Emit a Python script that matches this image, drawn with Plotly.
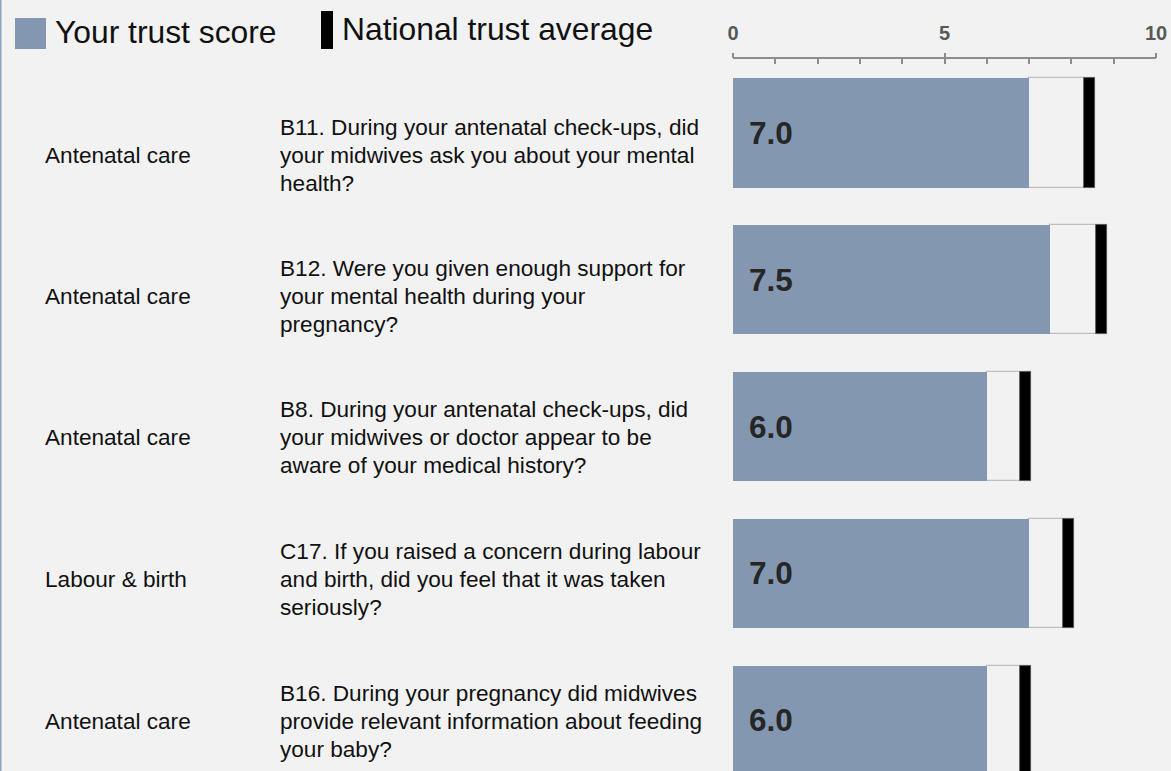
import plotly.graph_objects as go

# ---------------- data ----------------
categories = ["Antenatal care", "Antenatal care", "Antenatal care", "Labour & birth", "Antenatal care"]
questions = [
    ["B11. During your antenatal check-ups, did", "your midwives ask you about your mental", "health?"],
    ["B12. Were you given enough support for", "your mental health during your", "pregnancy?"],
    ["B8. During your antenatal check-ups, did", "your midwives or doctor appear to be", "aware of your medical history?"],
    ["C17. If you raised a concern during labour", "and birth, did you feel that it was taken", "seriously?"],
    ["B16. During your pregnancy did midwives", "provide relevant information about feeding", "your baby?"],
]
trust_scores = [7.0, 7.5, 6.0, 7.0, 6.0]
national_avg = [8.55, 8.85, 7.05, 8.05, 7.05]
tick_values = [0, 5, 10]
tick_labels = ["0", "5", "10"]
legend_labels = ["Your trust score", "National trust average"]

# ---------------- layout constants ----------------
W, H = 1171, 771
L, R, T, B = 733, 15, 59, 0
PW, PH = W - L - R, H - T - B
BG = "#f2f2f2"
BAR = "#8497b0"
FONT = "Liberation Sans, Arial, sans-serif"
MARK_W = 0.26
BAR_W = 0.745
TXT = 22.6
LINE_PITCH = 28

def px_x(px):
    return (px - L) / PW

def px_y(py):
    return (H - B - py) / PH

rows = list(range(len(trust_scores)))

fig = go.Figure()
# outline box from score to national average
fig.add_trace(go.Bar(
    y=rows, x=[n - s for n, s in zip(national_avg, trust_scores)], base=trust_scores,
    orientation="h", width=BAR_W,
    marker=dict(color="rgba(0,0,0,0)", line=dict(color="#bfbfbf", width=1.2)),
    hoverinfo="skip", showlegend=False))
# trust score bar
fig.add_trace(go.Bar(
    y=rows, x=trust_scores, base=0, orientation="h", width=BAR_W,
    marker=dict(color=BAR, line=dict(width=0)),
    name=legend_labels[0], showlegend=False))
# national average marker (on the overlaid top axis that carries the tick labels)
fig.add_trace(go.Bar(
    y=rows, x=[MARK_W] * len(rows), base=[n - MARK_W for n in national_avg],
    orientation="h", width=BAR_W, xaxis="x2", yaxis="y",
    marker=dict(color="black", line=dict(color="#555555", width=0.8)),
    name=legend_labels[1], showlegend=False))

annotations = []
# value labels
for i, s in enumerate(trust_scores):
    annotations.append(dict(
        x=0, y=i, xref="x", yref="y", text=f"{s:.1f}", showarrow=False,
        xanchor="left", yanchor="middle", xshift=14,
        font=dict(family=FONT, size=31.5, color="#262626", weight="bold")))

# row texts (category + question lines)
for i, (c, q) in enumerate(zip(categories, questions)):
    ypx = 155 + 141.5 * i
    annotations.append(dict(
        x=px_x(43), y=px_y(ypx), xref="paper", yref="paper", text=c, showarrow=False,
        xanchor="left", yanchor="middle",
        font=dict(family=FONT, size=TXT, color="#111111")))
    for k, line in enumerate(q):
        annotations.append(dict(
            x=px_x(278), y=px_y(ypx + (k - 1) * LINE_PITCH), xref="paper", yref="paper",
            text=line, showarrow=False, xanchor="left", yanchor="middle", align="left",
            font=dict(family=FONT, size=TXT, color="#111111")))

# legend texts
annotations.append(dict(
    x=px_x(53), y=px_y(32), xref="paper", yref="paper", text=legend_labels[0],
    showarrow=False, xanchor="left", yanchor="middle",
    font=dict(family=FONT, size=31.8, color="#111111")))
annotations.append(dict(
    x=px_x(340), y=px_y(29), xref="paper", yref="paper", text=legend_labels[1],
    showarrow=False, xanchor="left", yanchor="middle",
    font=dict(family=FONT, size=31.8, color="#111111")))

shapes = [
    # legend swatches
    dict(type="rect", xref="paper", yref="paper", x0=px_x(15), x1=px_x(46),
         y0=px_y(49), y1=px_y(18), fillcolor=BAR, line=dict(width=0), layer="above"),
    dict(type="rect", xref="paper", yref="paper", x0=px_x(321), x1=px_x(333),
         y0=px_y(49), y1=px_y(11), fillcolor="black", line=dict(width=0), layer="above"),
    # left border
    dict(type="line", xref="paper", yref="paper", x0=px_x(0.75), x1=px_x(0.75),
         y0=px_y(H), y1=px_y(0), line=dict(color="#8fa4c4", width=1.5), layer="above"),
]

fig.update_layout(
    width=W, height=H,
    margin=dict(l=L, r=R, t=T, b=B, pad=0),
    paper_bgcolor=BG, plot_bgcolor=BG,
    barmode="overlay", bargap=0,
    annotations=annotations, shapes=shapes,
    xaxis=dict(range=[0, 10], side="top", showgrid=False, zeroline=False,
               showline=True, linecolor="#8c8c8c", linewidth=2,
               ticks="inside", ticklen=5, tickwidth=2, tickcolor="#8c8c8c",
               tickmode="linear", tick0=0, dtick=1, showticklabels=False,
               fixedrange=True),
    xaxis2=dict(range=[0, 10], overlaying="x", side="top", anchor="y",
                showgrid=False, zeroline=False, showline=False,
                ticks="outside", ticklen=5, tickwidth=2, tickcolor="#8c8c8c",
                tickmode="array", tickvals=tick_values, ticktext=tick_labels,
                ticklabelstandoff=5,
                tickfont=dict(family=FONT, size=20, color="#595959", weight="bold"),
                fixedrange=True),
    yaxis=dict(range=[(H - B - 133) / 146.8, (T - 133) / 146.8],
               showgrid=False, zeroline=False, showline=False,
               showticklabels=False, ticks="", fixedrange=True),
    showlegend=False,
)

fig.write_html(
    "out.html",
    config={"displayModeBar": False},
    post_script="document.body.style.margin='0';document.body.style.background='#f2f2f2';",
)
